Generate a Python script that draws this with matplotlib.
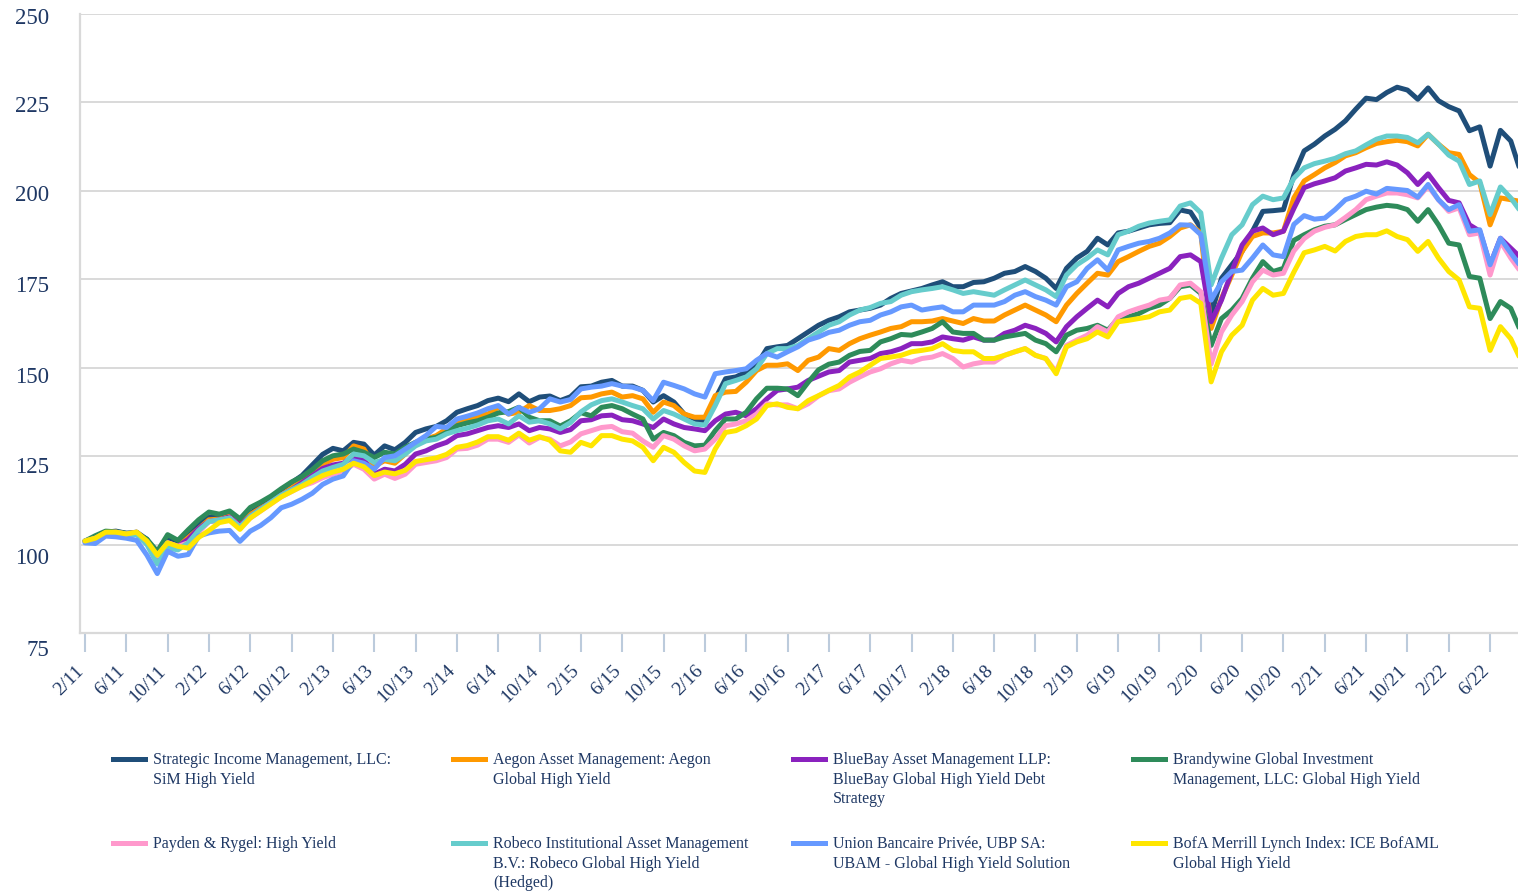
import numpy as np
import matplotlib
matplotlib.use("Agg")
import matplotlib.pyplot as plt
from matplotlib.lines import Line2D
from matplotlib.transforms import ScaledTranslation

plt.rcParams["font.family"] = ["Liberation Serif", "DejaVu Serif"]

TEXT = "#1F3864"
GRID = "#D9D9D9"

# Cumulative index values (start = 100), monthly 2/11 .. 9/22
sim_high_yield = [
    101, 101.8, 103.5, 103.8, 103.2, 103.5, 101.5, 97, 101.5, 100.2, 102.5,
    105.5, 107.8, 107.5, 108.5, 106.2, 108.8, 111, 113, 115.5, 117.5, 119.5, 122.5,
    125.5, 127.2, 126.5, 128.9, 128.4, 125.3, 127.9, 126.8, 128.9, 131.7, 132.7, 133.4, 135,
    137.4, 138.4, 139.3, 140.7, 141.4, 140.4, 142.6, 140.4, 141.7, 142, 140.7, 141.8, 144.6,
    144.8, 145.9, 146.4, 144.8, 144.8, 143.6, 140.3, 142.1, 140.3, 136.9, 135.5, 134.6,
    141.2, 146.9, 147.4, 148.8, 150.7, 155.4, 155.9, 156.3, 158.2, 160.1, 162, 163.4,
    164.4, 165.8, 166.3, 166.8, 167.7, 169.6, 171, 171.7, 172.4, 173.4, 174.3, 172.9,
    172.9, 174.1, 174.3, 175.3, 176.7, 177.2, 178.6, 177.2, 175.3, 172.4, 178.1, 181,
    182.9, 186.6, 184.7, 188.1, 188.6, 189.5, 190.4, 190.8, 191, 194.6, 194, 189.5,
    165, 175.3, 179.1, 182.9, 188.6, 194.2, 194.4, 194.7,
    204.5, 211.3, 213.2, 215.5, 217.4, 219.8, 223.1, 226.2, 225.8, 227.8, 229.3, 228.5,
    225.9, 229.1, 225.5, 223.8, 222.6, 217, 218.1, 207, 217.1, 214.1, 205,
]
aegon_global_hy = [
    101, 101.8, 103.3, 103.5, 103, 103.5, 101, 96.5, 100.5, 99.5, 102,
    104.5, 107, 107.2, 108, 105.5, 108.5, 110.3, 112, 114, 116, 118, 120.5,
    122.7, 124.1, 124.6, 127.9, 127, 122.2, 123.7, 123, 125.6, 128.9, 129.8, 130.8, 132.7,
    134.6, 135, 136.4, 136.9, 138.8, 136.9, 137.4, 139.3, 137.9, 137.9, 138.4, 139.3, 141.5,
    141.7, 142.6, 143.1, 141.7, 142.1, 141.2, 137.4, 140.3, 139.3, 136.9, 136, 136,
    142.1, 143.1, 143.3, 145.9, 149.2, 150.7, 150.7, 151.1, 149.2, 152.1, 153, 155.4,
    154.9, 156.8, 158.2, 159.2, 160.1, 161.1, 161.6, 163, 163, 163.2, 163.9, 163.2,
    162.5, 163.9, 163.2, 163.2, 164.9, 166.3, 167.7, 166.3, 164.9, 163, 167.7, 171,
    173.9, 176.7, 176.2, 180, 181.4, 182.9, 184.3, 185.2, 187.1, 189.5, 190.4, 188.1,
    161.1, 169.6, 176.2, 182.9, 187.1, 188.1, 188.1, 188.6,
    198, 202.8, 204.6, 206.5, 208, 209.9, 210.8, 212.2, 213.4, 213.9, 214.3, 213.9,
    212.7, 216, 213.2, 210.8, 210.3, 204.6, 202.3, 190.4, 198, 197.5, 197,
]
bluebay_global_hy = [
    101, 101.8, 103.3, 103.5, 103, 103.2, 100.5, 96.5, 100.5, 99.5, 101.5,
    104.5, 106.5, 107, 107.8, 105.5, 108, 110, 112, 114, 115.5, 117.5, 119.5,
    121.5, 122.5, 123, 125, 124, 119.9, 121.3, 120.8, 122.7, 125.6, 126.5, 127.9, 128.9,
    130.8, 131.3, 132.2, 133.1, 133.6, 133.1, 134.1, 132.2, 133.1, 132.7, 131.7, 132.5, 135,
    135.3, 136.4, 136.6, 135.3, 135, 134.1, 133.1, 135.5, 134.1, 133.1, 132.7, 132.2,
    135, 136.9, 137.4, 136.4, 138.4, 141.2, 143.6, 144, 144.5, 146.4, 147.6, 148.8,
    149.2, 151.6, 152.1, 152.6, 154, 154.5, 155.4, 156.8, 156.8, 157.3, 158.7, 158.2,
    157.8, 158.7, 157.8, 157.8, 159.7, 160.6, 162, 161.1, 159.7, 157.3, 161.6, 164.4,
    166.8, 169.1, 167.2, 171, 172.9, 173.9, 175.3, 176.7, 178.1, 181.4, 181.9, 180,
    163, 169.1, 177.2, 184.7, 188.6, 189.5, 187.6, 188.6,
    195, 200.9, 202, 202.8, 203.7, 205.6, 206.5, 207.5, 207.3, 208.2, 207.3, 205.1,
    201.8, 204.8, 200.9, 197.3, 196.6, 190.4, 188.6, 179.1, 186.6, 183.8, 181,
]
brandywine_global_hy = [
    101, 102.5, 103.8, 103.6, 103.2, 103, 101.5, 98.1, 102.8, 101.2, 104.2,
    107, 109.2, 108.6, 109.5, 107.3, 110.5, 112, 113.7, 115.8, 117.7, 119.2, 121.2,
    123.7, 125.1, 125.6, 127, 126.1, 124.6, 126.1, 125.6, 127.5, 128.9, 129.8, 130.3, 131.7,
    133.6, 134.4, 135, 136, 137.2, 137.6, 138.8, 136, 135, 135, 133.5, 135, 137.3,
    136.4, 138.8, 139.3, 138.4, 136.9, 135.5, 129.8, 131.7, 130.8, 128.9, 127.9, 128.1,
    132.2, 135.5, 135.5, 137.4, 141.2, 144.2, 144.2, 144, 142.1, 145.9, 149.4, 151,
    151.6, 153.5, 154.6, 154.9, 157.3, 158.2, 159.4, 159.2, 160.1, 161.1, 163, 160.1,
    159.7, 159.7, 157.8, 157.8, 158.7, 159.2, 159.7, 157.8, 156.8, 154.5, 159.2, 160.6,
    161.1, 162, 160.6, 163.9, 164.4, 165.3, 166.8, 167.7, 169.6, 172.9, 173.4, 171,
    156.3, 163.9, 166.3, 169.6, 175.3, 180, 177.2, 178.1,
    186, 187.6, 189, 190, 190.4, 191.9, 193.3, 194.7, 195.4, 195.9, 195.6, 194.7,
    191.4, 194.7, 190.4, 185.2, 184.7, 175.8, 175.3, 163.9, 168.7, 166.8, 160,
]
payden_hy = [
    101, 101.8, 103.3, 103.5, 103, 103.3, 100.5, 96.7, 100.5, 99.5, 100.5,
    103.5, 106.5, 106.8, 107.5, 105, 107.5, 109.5, 111.5, 113.5, 115, 116.5, 117.5,
    118.9, 119.9, 120.8, 122.7, 121.3, 118.5, 119.9, 118.7, 119.9, 122.7, 123.2, 123.7, 124.6,
    127, 127.2, 128.1, 129.8, 129.8, 128.9, 131, 128.7, 130.3, 129.8, 127.9, 129, 131.3,
    132.2, 133.1, 133.4, 131.9, 131.5, 129.3, 127.5, 130.8, 129.8, 127.9, 126.5, 127,
    129.8, 133.6, 134.1, 135, 136.9, 139.8, 139.5, 139.5, 138.4, 139.8, 142, 143.5,
    144, 145.9, 147.4, 148.8, 149.7, 151.1, 152.1, 151.6, 152.6, 153, 154, 152.6,
    150.2, 151.1, 151.6, 151.6, 153.5, 154.5, 155.4, 153.5, 152.6, 148.8, 156.3, 157.8,
    159.2, 161.6, 160.1, 164.4, 165.8, 166.8, 167.7, 169.1, 169.6, 173.4, 173.9, 171.5,
    151, 160.1, 164.9, 168.7, 174.3, 177.6, 176.2, 176.7,
    183, 186.5, 188.6, 189.7, 190.4, 192.5, 194.7, 197.5, 198.5, 199.4, 199.4, 198.9,
    198, 201.3, 197.5, 194.2, 195.2, 187.6, 188.1, 176.2, 185.7, 181, 177,
]
robeco_global_hy = [
    101, 101.5, 103, 103.3, 102.5, 102.8, 100, 94.5, 99, 98.5, 100.5,
    104, 106.5, 107, 107.5, 105, 108, 110, 112, 114, 115.5, 117, 119,
    120.8, 121.8, 122.7, 125.6, 125.1, 123.2, 124.1, 123.7, 125.6, 127.9, 129.3, 129.8, 131.3,
    132.2, 132.9, 133.8, 135, 135.5, 134.1, 136.4, 134.6, 135, 134.1, 132.7, 134.5, 137.5,
    139.5, 140.7, 141.2, 140.3, 139.3, 138.4, 135.5, 137.9, 136.9, 135.5, 134.1, 133.8,
    139.3, 145.5, 146.4, 147.4, 149.7, 154, 155.4, 155.4, 156.3, 158.2, 160.1, 162,
    163, 164.9, 166.3, 167, 168.2, 168.7, 170.5, 171.5, 172, 172.4, 172.9, 172,
    171, 171.5, 171, 170.5, 172, 173.4, 174.8, 173.4, 172, 170.1, 176.2, 179.1,
    181, 183.3, 181.9, 187.6, 188.6, 190, 190.9, 191.4, 191.8, 195.7, 196.6, 193.8,
    173.4, 181, 187.6, 190.4, 196.1, 198.5, 197.5, 198,
    203.5, 206.5, 207.7, 208.4, 209.2, 210.5, 211.3, 213, 214.6, 215.5, 215.5, 215.1,
    213.6, 216, 213.2, 210.1, 208.4, 201.8, 202.8, 193.3, 201.1, 198, 194,
]
ubam_global_hy = [
    100.5, 100.3, 102.4, 102.2, 101.8, 101.2, 97, 91.8, 98.1, 96.7, 97.2,
    102.4, 103.3, 103.8, 104, 100.9, 103.8, 105.4, 107.6, 110.4, 111.4, 112.8, 114.5,
    117, 118.5, 119.4, 123.7, 123, 121.3, 124.6, 125.1, 127, 128.9, 130.8, 133.4, 133.1,
    135.5, 136.3, 137.2, 138.4, 139.3, 136.9, 138.8, 137.4, 138.4, 141.2, 140.3, 141, 144,
    144.5, 144.8, 145.5, 144.8, 144.5, 143.6, 140.7, 145.9, 145, 144, 142.6, 141.7,
    148.3, 148.8, 149.2, 149.7, 152.1, 154, 153, 154.5, 155.9, 157.8, 158.7, 160,
    160.6, 162, 163, 163.4, 164.9, 165.8, 167.2, 167.7, 166.3, 166.8, 167.2, 165.8,
    165.8, 167.7, 167.7, 167.7, 168.7, 170.5, 171.5, 170.1, 169.1, 167.7, 172.9, 174.3,
    178.1, 180.5, 177.6, 183.3, 184.3, 185.2, 185.7, 186.6, 188.1, 190.4, 190.3, 187.6,
    169.1, 174.3, 177.2, 177.6, 181, 184.7, 181.9, 181.4,
    190.5, 193, 192, 192.3, 194.7, 197.5, 198.5, 199.9, 199.1, 200.7, 200.4, 200.1,
    198.2, 201.8, 197.5, 194.7, 196.1, 188.6, 189, 179.1, 186.6, 182.4, 178.5,
]
bofaml_global_hy = [
    101, 101.8, 103.5, 103.5, 103, 103.5, 101, 97, 100.5, 99.5, 99,
    102, 104, 106.2, 106.8, 104.3, 107.5, 109.5, 111.5, 113.5, 115, 116.5, 118,
    119.5, 120.5, 121.3, 123, 122, 119.5, 120.5, 120, 121, 123.5, 124, 124.5, 125.5,
    127.5, 128, 129, 130.5, 130.5, 129.5, 131.5, 129.5, 130.5, 129.5, 126.5, 126.1, 128.9,
    127.9, 130.8, 130.8, 129.8, 129.3, 127.5, 123.7, 127.5, 126.1, 123.2, 120.8, 120.4,
    127, 131.7, 132.2, 133.6, 135.5, 139.3, 139.8, 138.8, 138.4, 140.7, 142.1, 143.6,
    145, 147.4, 148.8, 150.7, 152.6, 153, 153.5, 154.5, 154.9, 155.4, 156.8, 154.9,
    154.5, 154.5, 152.6, 152.6, 153.5, 154.5, 155.4, 153.5, 152.6, 148.3, 155.9, 157.3,
    158.2, 160.1, 158.7, 163, 163.4, 163.9, 164.4, 165.8, 166.3, 169.6, 170.1, 168.2,
    146, 154.5, 159.2, 162, 169.1, 172.4, 170.5, 171,
    177, 182.5, 183.3, 184.3, 183, 185.7, 187.1, 187.6, 187.6, 188.7, 187.1, 186.2,
    182.9, 185.7, 181, 177.2, 174.8, 167.2, 166.8, 154.9, 161.6, 158.2, 152,
]

SERIES_NAMES = [
    "Strategic Income Management, LLC:\nSiM High Yield",
    "Aegon Asset Management: Aegon\nGlobal High Yield",
    "BlueBay Asset Management LLP:\nBlueBay Global High Yield Debt\nStrategy",
    "Brandywine Global Investment\nManagement, LLC: Global High Yield",
    "Payden & Rygel: High Yield",
    "Robeco Institutional Asset Management\nB.V.: Robeco Global High Yield\n(Hedged)",
    "Union Bancaire Privée, UBP SA:\nUBAM - Global High Yield Solution",
    "BofA Merrill Lynch Index: ICE BofAML\nGlobal High Yield",
]
TICK_LABELS = [
    "2/11", "6/11", "10/11", "2/12", "6/12", "10/12", "2/13", "6/13", "10/13",
    "2/14", "6/14", "10/14", "2/15", "6/15", "10/15", "2/16", "6/16", "10/16",
    "2/17", "6/17", "10/17", "2/18", "6/18", "10/18", "2/19", "6/19", "10/19",
    "2/20", "6/20", "10/20", "2/21", "6/21", "10/21", "2/22", "6/22",
]
Y_TICKS = [75, 100, 125, 150, 175, 200, 225, 250]

series = [sim_high_yield, aegon_global_hy, bluebay_global_hy, brandywine_global_hy,
          payden_hy, robeco_global_hy, ubam_global_hy, bofaml_global_hy]
colors = ["#1F4E79", "#FF9900", "#8A22BE", "#2E8B5A",
          "#FF99CC", "#66CCCC", "#6699FF", "#FFE600"]
# draw order: index line first, then managers in legend order
draw_order = [7, 0, 1, 2, 3, 4, 5, 6]

fig = plt.figure(figsize=(15.18, 8.93), dpi=100)
ax = fig.add_axes([80 / 1518, 1 - 633 / 893, 1438 / 1518, 619 / 893])

for i in draw_order:
    y = np.array(series[i])
    ax.plot(np.arange(len(y)), y, color=colors[i], lw=3.6,
            solid_joinstyle="round", solid_capstyle="round", zorder=3 + i * 0.1)

ax.set_ylim(75, 250)
ax.set_yticks(Y_TICKS)
ax.set_xlim(-0.48, 138.7)
ax.set_xticks(np.arange(0, 4 * len(TICK_LABELS), 4))
ax.set_xticklabels(TICK_LABELS, rotation=45, ha="right", va="top",
                   rotation_mode="anchor")

ax.grid(axis="y", color=GRID, lw=1.4, zorder=0)
for side in ["top", "right"]:
    ax.spines[side].set_visible(False)
for side in ["left", "bottom"]:
    ax.spines[side].set_color(GRID)
    ax.spines[side].set_linewidth(1.6)

ax.tick_params(axis="y", length=0, pad=22, labelsize=16.5, labelcolor=TEXT)
ax.tick_params(axis="x", length=13.7, width=1.5, color="#BCCBDC", direction="out",
               pad=7.5, labelsize=14, labelcolor=TEXT)
shift = ScaledTranslation(-10 / 100, 0, fig.dpi_scale_trans)
for lab in ax.get_xticklabels():
    lab.set_transform(lab.get_transform() + shift)

# the value labels in the source sit slightly below their gridlines, more so lower down
label_drop_px = [15, 11, 9, 7, 5, 2.5, 1.5, 2]
for lab, d in zip(ax.get_yticklabels(), label_drop_px):
    lab.set_transform(lab.get_transform() + ScaledTranslation(0, -d / 100, fig.dpi_scale_trans))

# legend: 4 columns x 2 rows, drawn in figure pixels
col_x = [113, 453, 793, 1133]
row_y = [759, 843]
for k, name in enumerate(SERIES_NAMES):
    cx = col_x[k % 4]
    ry = row_y[k // 4]
    fig.add_artist(Line2D([cx / 1518, (cx + 32) / 1518], [1 - ry / 893] * 2,
                          color=colors[k], lw=3.6, transform=fig.transFigure))
    fig.text((cx + 40) / 1518, 1 - (ry - 7) / 893, name, ha="left", va="top",
             fontsize=11.5, color=TEXT, linespacing=1.3)

fig.savefig("out.png", dpi=100)
